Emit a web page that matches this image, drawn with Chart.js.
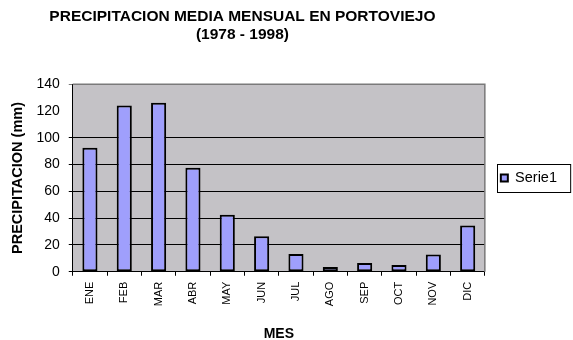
<!DOCTYPE html>
<html>
<head>
<meta charset="utf-8">
<script src="https://cdn.jsdelivr.net/npm/chart.js@4/dist/chart.umd.min.js"></script>
<style>
  html, body { margin: 0; padding: 0; background: #fff; }
  #wrap { width: 573px; height: 340px; }
</style>
</head>
<body>
<div id="wrap"><canvas id="chart"></canvas></div>
<script>
// Monthly mean rainfall, Portoviejo 1978-1998 (mm)
const MONTHS = ['ENE', 'FEB', 'MAR', 'ABR', 'MAY', 'JUN', 'JUL', 'AGO', 'SEP', 'OCT', 'NOV', 'DIC'];
const RAIN_MM = [92.6, 124.1, 126.1, 77.6, 42.5, 26.5, 13.3, 3.5, 6.5, 5.0, 12.8, 34.5];
const SERIES_NAME = 'Serie1';
const TITLE_LINES = ['PRECIPITACION MEDIA MENSUAL EN PORTOVIEJO', '(1978 - 1998)'];
const Y_TITLE = 'PRECIPITACION (mm)';
const X_TITLE = 'MES';
const Y_MIN = 0, Y_MAX = 140, Y_STEP = 20;

const COLORS = {
  bar: '#9f9ffc',
  edge: '#000000',
  plot: '#c4c2c6',
  frame: '#7a7a7a',
  grid: '#000000',
  text: '#000000',
};

const FONT = 'Liberation Sans, Arial, sans-serif';

// grey plot background, grey top/right edge, boxed legend
const plotFrame = {
  id: 'plotFrame',
  afterLayout(chart) {
    // centre the title over the plot side, not over the legend
    if (chart.titleBlock) chart.titleBlock.right = chart.chartArea.right;
  },
  beforeDraw(chart) {
    const { ctx, chartArea: a } = chart;
    ctx.save();
    ctx.fillStyle = COLORS.plot;
    ctx.fillRect(a.left, a.top, a.right - a.left, a.bottom - a.top);
    ctx.restore();
  },
  afterDatasetsDraw(chart) {
    const { ctx, chartArea: a } = chart;
    ctx.save();
    ctx.strokeStyle = COLORS.frame;
    ctx.lineWidth = 1.5;
    ctx.beginPath();
    ctx.moveTo(a.left, a.top);
    ctx.lineTo(a.right, a.top);
    ctx.lineTo(a.right, a.bottom);
    ctx.stroke();
    ctx.restore();
  },
  afterDraw(chart) {
    const hb = chart.legend && chart.legend.legendHitBoxes[0];
    if (!hb) return;
    const { ctx } = chart;
    const cy = hb.top + hb.height / 2;
    ctx.save();
    ctx.strokeStyle = '#000';
    ctx.lineWidth = 1;
    ctx.strokeRect(Math.round(hb.left - 4) + 0.5, Math.round(cy - 14) + 0.5, hb.width + 17, 28);
    ctx.restore();
  },
};

new Chart(document.getElementById('chart'), {
  type: 'bar',
  data: {
    labels: MONTHS,
    datasets: [{
      label: SERIES_NAME,
      data: RAIN_MM,
      backgroundColor: COLORS.bar,
      borderColor: COLORS.edge,
      borderWidth: 2,
      borderSkipped: false,
      barPercentage: 0.44,
      categoryPercentage: 1,
    }],
  },
  plugins: [plotFrame],
  options: {
    responsive: true, maintainAspectRatio: false,
    animation: false,
    layout: { padding: { right: 6 } },
    plugins: {
      title: {
        display: true,
        text: TITLE_LINES,
        color: COLORS.text,
        font: { family: FONT, size: 15.5, weight: 'bold', lineHeight: 1.2 },
        padding: { top: 7, bottom: 40 },
      },
      legend: {
        position: 'right',
        fullSize: false,
        labels: {
          color: COLORS.text,
          font: { family: FONT, size: 14.5 },
          boxWidth: 7, boxHeight: 7,
          padding: 16,
        },
      },
      tooltip: { enabled: false },
    },
    scales: {
      x: {
        grid: { offset: true, drawOnChartArea: false, drawTicks: true, tickLength: 4, color: COLORS.grid },
        border: { display: true, color: COLORS.grid, width: 1 },
        ticks: {
          color: COLORS.text,
          font: { family: FONT, size: 11 },
          minRotation: 90, maxRotation: 90,
          autoSkip: false,
          padding: 6,
        },
        title: {
          display: true,
          text: X_TITLE,
          color: COLORS.text,
          font: { family: FONT, size: 14, weight: 'bold', lineHeight: 0.8 },
          padding: { top: 16.6, bottom: 0 },
        },
      },
      y: {
        min: Y_MIN, max: Y_MAX,
        grid: {
          tickLength: 4,
          lineWidth: 1,
          color: ctx => ctx.tick && ctx.tick.value === 120 ? 'rgba(0,0,0,0)'
            : ctx.tick && ctx.tick.value === Y_MAX ? COLORS.frame : COLORS.grid,
        },
        border: { display: true, color: COLORS.grid, width: 1 },
        ticks: {
          stepSize: Y_STEP,
          color: COLORS.text,
          font: { family: FONT, size: 14 },
          padding: 9,
        },
        title: {
          display: true,
          text: Y_TITLE,
          color: COLORS.text,
          font: { family: FONT, size: 14.5, weight: 'bold', lineHeight: 1.2 },
          padding: { top: 9, bottom: 1 },
        },
      },
    },
  },
});
</script>
</body>
</html>
